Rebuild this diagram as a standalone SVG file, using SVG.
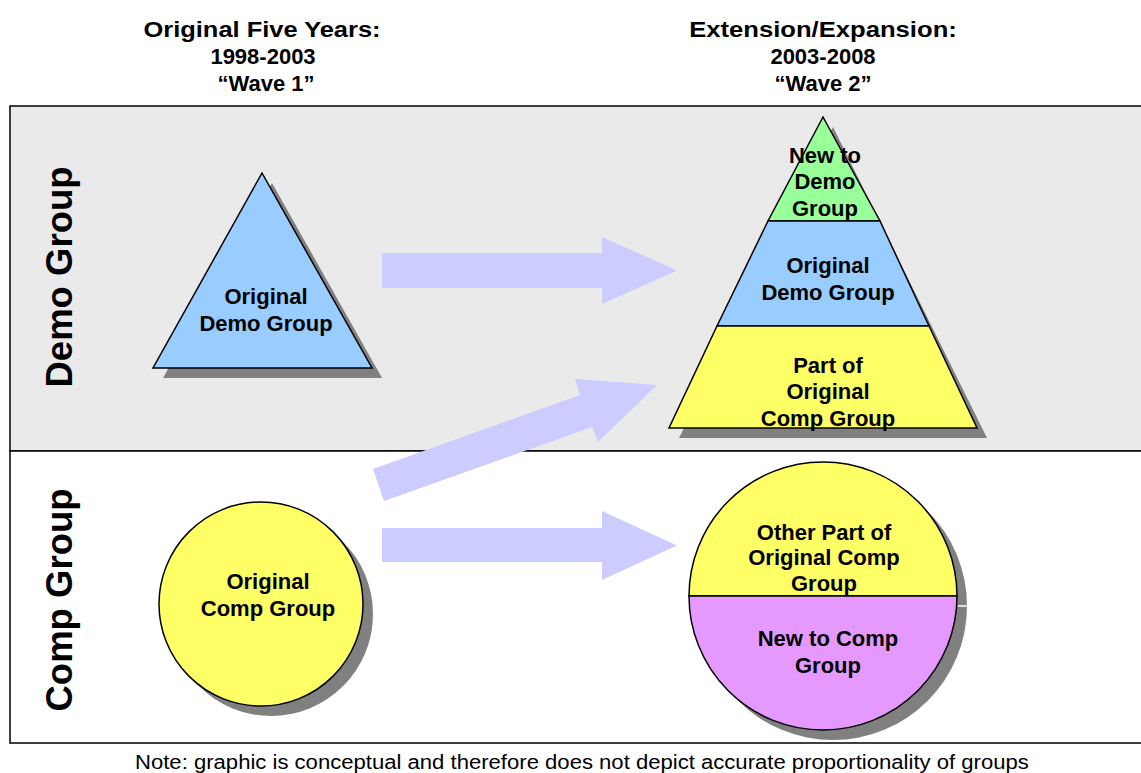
<svg xmlns="http://www.w3.org/2000/svg" width="1141" height="773" viewBox="0 0 1141 773">
<style>
.t{font-family:"Liberation Sans",Arial,sans-serif;font-weight:bold;font-size:22px;fill:#000;text-anchor:middle}
.h{font-family:"Liberation Sans",Arial,sans-serif;font-weight:bold;font-size:22px;fill:#000;text-anchor:middle}
.side{font-family:"Liberation Sans",Arial,sans-serif;font-weight:bold;font-size:36.5px;fill:#000;text-anchor:middle}
.note{font-family:"Liberation Sans",Arial,sans-serif;font-size:20px;fill:#000}
.sh{fill:#808080}
.arrow{fill:#CCCCFF}
</style>
<rect width="1141" height="773" fill="#fff"/>
<g id="bands">
<rect x="10" y="106" width="1140" height="345" fill="#EAEAEA" stroke="#000" stroke-width="1.5"/>
<rect x="10" y="451" width="1140" height="292" fill="#fff" stroke="#000" stroke-width="1.5"/>
</g>
<g id="headers">
<text class="h" transform="translate(262,37) scale(1.157,1)">Original Five Years:</text>
<text class="h" x="263" y="64">1998-2003</text>
<text class="h" x="266" y="91">“Wave 1”</text>
<text class="h" transform="translate(823,37) scale(1.165,1)">Extension/Expansion:</text>
<text class="h" x="823" y="64">2003-2008</text>
<text class="h" x="823" y="91">“Wave 2”</text>
</g>
<g id="side-labels">
<text class="side" transform="translate(72,277) rotate(-90)">Demo Group</text>
<text class="side" transform="translate(72,600) rotate(-90)">Comp Group</text>
</g>
<g id="original-demo">
<polygon class="sh" points="272,183 163,378 382,378"/>
<polygon points="262,173 153,368 372,368" fill="#99CCFF" stroke="#000" stroke-width="1.5"/>
<text class="t" x="266" y="304">Original</text>
<text class="t" x="266" y="331">Demo Group</text>
</g>
<g id="original-comp">
<circle class="sh" cx="271" cy="614" r="102"/>
<circle cx="261" cy="604" r="102" fill="#FFFF66" stroke="#000" stroke-width="1.5"/>
<text class="t" x="268" y="589">Original</text>
<text class="t" x="268" y="616">Comp Group</text>
</g>
<g id="connectors">
<polygon class="arrow" points="382,253 602,253 602,237 677,270.5 602,304 602,288 382,288"/>
<polygon class="arrow" points="373,469 580,395 575,379 657,385 598,442 592,427 384,501"/>
<polygon class="arrow" points="382,528 602,528 602,511 677,545.5 602,580 602,562 382,562"/>
</g>
<g id="wave2-pyramid">
<polygon class="sh" points="833,127 987,438 679,438"/>
<g id="new-to-demo">
<polygon points="823,117 880,221 768,221" fill="#99FF99" stroke="#000" stroke-width="1.5"/>
<text class="t" x="825" y="163">New to</text>
<text class="t" x="825" y="189">Demo</text>
<text class="t" x="825" y="216">Group</text>
</g>
<g id="pyr-original-demo">
<polygon points="768,221 880,221 929,326 717,326" fill="#99CCFF" stroke="#000" stroke-width="1.5"/>
<text class="t" x="828" y="273">Original</text>
<text class="t" x="828" y="300">Demo Group</text>
</g>
<g id="part-of-comp">
<polygon points="717,326 929,326 977,428 669,428" fill="#FFFF66" stroke="#000" stroke-width="1.5"/>
<text class="t" x="828" y="373">Part of</text>
<text class="t" x="828" y="399">Original</text>
<text class="t" x="828" y="426">Comp Group</text>
</g>
</g>
<g id="wave2-comp">
<circle class="sh" cx="833" cy="606" r="134"/>
<line x1="958" y1="606" x2="968" y2="606" stroke="#fff" stroke-width="1.5"/>
<g id="other-part-comp">
<path d="M689,596 A134,134 0 0 1 957,596 Z" fill="#FFFF66" stroke="#000" stroke-width="1.5"/>
<text class="t" x="824" y="540">Other Part of</text>
<text class="t" x="824" y="565">Original Comp</text>
<text class="t" x="824" y="591">Group</text>
</g>
<g id="new-to-comp">
<path d="M689,596 A134,134 0 0 0 957,596 Z" fill="#E599FF" stroke="#000" stroke-width="1.5"/>
<text class="t" x="828" y="646">New to Comp</text>
<text class="t" x="828" y="673">Group</text>
</g>
</g>
<text class="note" transform="translate(135,769) scale(1.105,1)">Note: graphic is conceptual and therefore does not depict accurate proportionality of groups</text>
</svg>
